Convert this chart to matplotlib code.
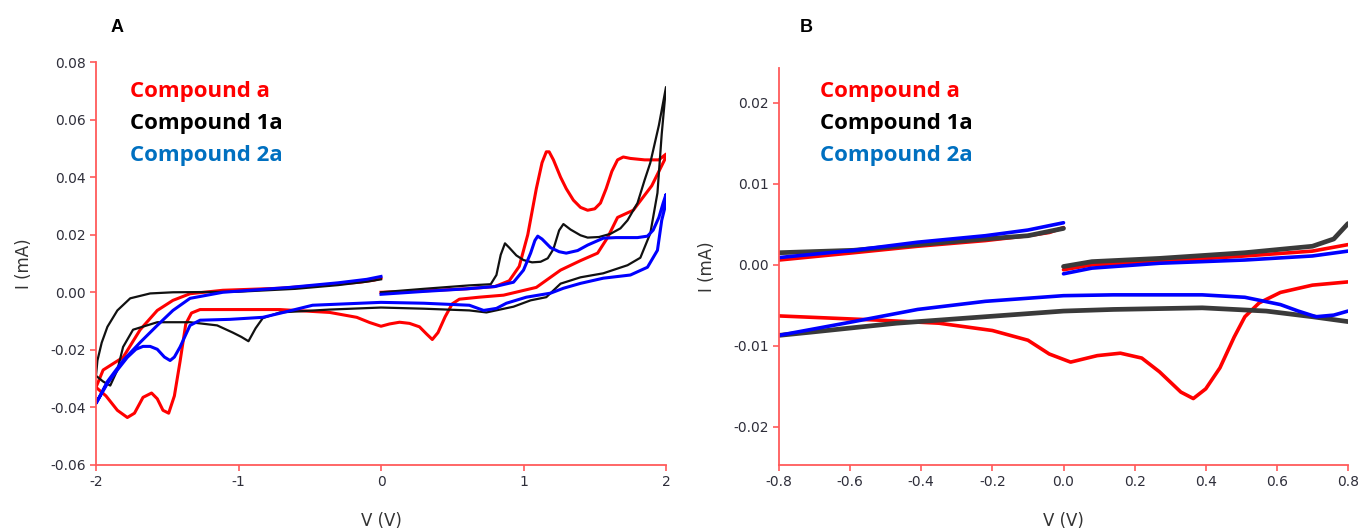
import matplotlib
matplotlib.use("Agg")
import matplotlib.pyplot as plt

# ---------------- Panel A data (V, mA): one cycle 0 -> 2 -> -2 -> 0 ----------------
a_red_V = [0.0, 0.3, 0.6, 0.8, 0.9, 0.97, 1.03, 1.09, 1.13, 1.16, 1.18, 1.21, 1.26, 1.3, 1.35, 1.4, 1.45, 1.5, 1.54, 1.58, 1.62, 1.66, 1.7, 1.75, 1.85, 1.95, 2.0,
           1.99, 1.9, 1.77, 1.66, 1.59, 1.52, 1.4, 1.26, 1.09, 0.86, 0.69, 0.55, 0.5, 0.45, 0.4, 0.36, 0.32, 0.27, 0.2, 0.13, 0.06, 0.0, -0.08, -0.17, -0.36, -0.71, -1.0, -1.27, -1.33, -1.37, -1.41, -1.45, -1.49, -1.53, -1.57, -1.61, -1.67, -1.73, -1.78, -1.85, -1.93, -2.0,
           -1.95, -1.81, -1.69, -1.57, -1.46, -1.34, -1.11, -0.71, -0.4, -0.15, -0.05, 0.0]
a_red_I = [0.0, 0.0005, 0.0012, 0.002, 0.004, 0.009, 0.02, 0.036, 0.045, 0.0488, 0.0488, 0.046, 0.04, 0.036, 0.032, 0.0295, 0.0285, 0.029, 0.031, 0.036, 0.042, 0.046, 0.047, 0.0465, 0.046, 0.046, 0.048,
           0.046, 0.037, 0.0285, 0.026, 0.019, 0.0136, 0.011, 0.0077, 0.0017, -0.001, -0.0017, -0.0024, -0.004, -0.0085, -0.014, -0.0164, -0.0145, -0.012, -0.0108, -0.0104, -0.011, -0.0118, -0.0105, -0.0087, -0.007, -0.006, -0.006, -0.006, -0.0072, -0.011, -0.024, -0.036, -0.042, -0.041, -0.037, -0.035, -0.0365, -0.042, -0.0435, -0.041, -0.036, -0.033,
           -0.027, -0.0226, -0.013, -0.0063, -0.0028, -0.0005, 0.0007, 0.0014, 0.0025, 0.0035, 0.0042, 0.0049]

a_blk_V = [0.0, 0.3, 0.62, 0.77, 0.81, 0.84, 0.87, 0.9, 0.95, 1.0, 1.06, 1.12, 1.17, 1.21, 1.25, 1.28, 1.33, 1.4, 1.45, 1.53, 1.61, 1.68, 1.73, 1.8, 1.85, 1.89, 1.95, 2.0,
           1.97, 1.94, 1.89, 1.82, 1.73, 1.56, 1.4, 1.26, 1.16, 1.05, 0.93, 0.74, 0.62, 0.3, 0.0, -0.36, -0.71, -0.83, -0.88, -0.93, -0.98, -1.04, -1.15, -1.34, -1.57, -1.74, -1.81, -1.85, -1.9, -1.95, -2.0,
           -1.99, -1.96, -1.92, -1.85, -1.76, -1.62, -1.46, -1.2, -1.0, -0.6, -0.3, -0.1, 0.0]
a_blk_I = [0.0, 0.0012, 0.0024, 0.0028, 0.006, 0.013, 0.017, 0.0155, 0.0128, 0.0112, 0.0104, 0.0106, 0.0118, 0.015, 0.0215, 0.0237, 0.0218, 0.0198, 0.019, 0.0192, 0.0203, 0.0222, 0.025, 0.031, 0.039, 0.045, 0.058, 0.0713,
           0.055, 0.0345, 0.0205, 0.012, 0.0094, 0.0066, 0.0052, 0.003, -0.0017, -0.0028, -0.005, -0.007, -0.0063, -0.0057, -0.0053, -0.006, -0.007, -0.009, -0.0125, -0.017, -0.0155, -0.014, -0.0115, -0.0104, -0.0104, -0.013, -0.019, -0.027, -0.0324, -0.031, -0.029,
           -0.0237, -0.0175, -0.012, -0.0063, -0.0021, -0.0004, 0.0, 0.0001, 0.0002, 0.0012, 0.0025, 0.0037, 0.0045]

a_blu_V = [0.0, 0.3, 0.6, 0.8, 0.93, 1.0, 1.05, 1.08, 1.1, 1.13, 1.19, 1.25, 1.3, 1.38, 1.45, 1.56, 1.65, 1.8, 1.87, 1.91, 1.95, 1.98, 2.0,
           1.99, 1.97, 1.94, 1.87, 1.75, 1.56, 1.4, 1.28, 1.19, 1.02, 0.88, 0.81, 0.72, 0.62, 0.3, 0.0, -0.48, -0.71, -0.83, -1.06, -1.27, -1.34, -1.41, -1.45, -1.48, -1.52, -1.57, -1.62, -1.67, -1.72, -1.78, -1.85, -1.92, -2.0,
           -1.92, -1.81, -1.69, -1.57, -1.46, -1.34, -1.11, -0.64, -0.3, -0.1, 0.0]
a_blu_I = [-0.0007, 0.0003, 0.0012, 0.002, 0.0035, 0.0077, 0.0136, 0.018, 0.0195, 0.0185, 0.0155, 0.0141, 0.0136, 0.0145, 0.0164, 0.0188, 0.019, 0.019, 0.0195, 0.0216, 0.026, 0.031, 0.034,
           0.029, 0.025, 0.0146, 0.0087, 0.006, 0.0049, 0.0031, 0.0014, -0.0003, -0.0017, -0.0038, -0.0056, -0.0063, -0.0045, -0.0038, -0.0035, -0.0045, -0.0073, -0.0087, -0.0094, -0.0097, -0.0115, -0.019, -0.0225, -0.0237, -0.0225, -0.0198, -0.0188, -0.0188, -0.0198, -0.0226, -0.027, -0.0317, -0.0386,
           -0.031, -0.0237, -0.0174, -0.0115, -0.0063, -0.0021, 0.0, 0.0017, 0.0033, 0.0045, 0.0055]

# ---------------- Panel B data (V, mA): three sweep segments per compound ----------------
b_red_up_V = [0.0, 0.08, 0.27, 0.51, 0.70, 0.80]
b_red_up_I = [-0.0006, 0.0, 0.0004, 0.0011, 0.0017, 0.0025]
b_red_dn_V = [0.80, 0.70, 0.61, 0.55, 0.51, 0.48, 0.44, 0.40, 0.365, 0.33, 0.27, 0.22, 0.16, 0.095, 0.02, -0.04, -0.10, -0.20, -0.35, -0.53, -0.80]
b_red_dn_I = [-0.0021, -0.0025, -0.0034, -0.0047, -0.0064, -0.0089, -0.0127, -0.0153, -0.0165, -0.0157, -0.0132, -0.0115, -0.0109, -0.0112, -0.012, -0.011, -0.0093, -0.0081, -0.0072, -0.0068, -0.0063]
b_red_rt_V = [-0.80, -0.59, -0.41, -0.22, -0.10, -0.04, 0.0]
b_red_rt_I = [0.0006, 0.0015, 0.0023, 0.003, 0.0036, 0.004, 0.0046]

b_blk_up_V = [0.0, 0.08, 0.27, 0.51, 0.70, 0.76, 0.80]
b_blk_up_I = [-0.0002, 0.0004, 0.0008, 0.0015, 0.0023, 0.0032, 0.0051]
b_blk_dn_V = [0.80, 0.70, 0.57, 0.39, 0.14, 0.0, -0.22, -0.47, -0.71, -0.80]
b_blk_dn_I = [-0.007, -0.0064, -0.0057, -0.0053, -0.0055, -0.0057, -0.0064, -0.0072, -0.0083, -0.0087]
b_blk_rt_V = [-0.80, -0.59, -0.41, -0.22, -0.10, 0.0]
b_blk_rt_I = [0.0015, 0.0018, 0.0025, 0.0032, 0.0036, 0.0045]

b_blu_up_V = [0.0, 0.08, 0.27, 0.51, 0.70, 0.80]
b_blu_up_I = [-0.0011, -0.0004, 0.0002, 0.0006, 0.0011, 0.0017]
b_blu_dn_V = [0.80, 0.76, 0.71, 0.66, 0.61, 0.51, 0.39, 0.14, 0.0, -0.22, -0.41, -0.59, -0.80]
b_blu_dn_I = [-0.0057, -0.0062, -0.0064, -0.0057, -0.0049, -0.004, -0.0037, -0.0037, -0.0038, -0.0045, -0.0055, -0.007, -0.0087]
b_blu_rt_V = [-0.80, -0.59, -0.41, -0.22, -0.10, 0.0]
b_blu_rt_I = [0.0009, 0.0018, 0.0028, 0.0036, 0.0043, 0.0052]

legend_labels = ["Compound a", "Compound 1a", "Compound 2a"]
legend_colors = ["#FF0000", "#000000", "#0070C0"]
line_colors = ["#FF0000", "#111111", "#0000FF"]

a_xticks = [-2, -1, 0, 1, 2]
a_yticks = [-0.06, -0.04, -0.02, 0.00, 0.02, 0.04, 0.06, 0.08]
b_xticks = [-0.8, -0.6, -0.4, -0.2, 0.0, 0.2, 0.4, 0.6, 0.8]
b_yticks = [-0.02, -0.01, 0.00, 0.01, 0.02]

spine_c = "#FF5A5A"
tick_txt = "#2E2E3A"
tick_font = "DejaVu Sans"

fig = plt.figure(figsize=(13.62, 5.32), dpi=100)
axA = fig.add_axes([96/1362, 1-465/532, (666-96)/1362, (465-62)/532])
axB = fig.add_axes([779/1362, 1-465/532, (1348-779)/1362, (465-68)/532])

def style(ax):
    for s in ["top", "right"]:
        ax.spines[s].set_visible(False)
    for s in ["left", "bottom"]:
        ax.spines[s].set_color(spine_c)
        ax.spines[s].set_linewidth(1.3)
    ax.tick_params(axis="both", direction="out", length=4, width=1.2, color=spine_c,
                   labelcolor=tick_txt, labelsize=10)
    for lab in ax.get_xticklabels() + ax.get_yticklabels():
        lab.set_family(tick_font)

# Panel A
axA.plot(a_red_V, a_red_I, color=line_colors[0], lw=2.2, solid_joinstyle="round")
axA.plot(a_blk_V, a_blk_I, color=line_colors[1], lw=1.6, solid_joinstyle="round")
axA.plot(a_blu_V, a_blu_I, color=line_colors[2], lw=2.2, solid_joinstyle="round")
axA.set_xlim(-2, 2)
axA.set_ylim(-0.06, 0.08)
axA.set_xticks(a_xticks)
axA.set_xticklabels([str(t) for t in a_xticks])
axA.set_yticks(a_yticks)
axA.set_yticklabels([f"{t:.2f}" for t in a_yticks])
style(axA)
axA.set_xlabel("V (V)", family=tick_font, fontsize=12, color="#333333", labelpad=16)
axA.set_ylabel("I (mA)", family=tick_font, fontsize=12, color="#333333", labelpad=12)

# Panel B
for segs, c, lw in [
    ([(b_red_up_V, b_red_up_I), (b_red_dn_V, b_red_dn_I), (b_red_rt_V, b_red_rt_I)], line_colors[0], 2.6),
    ([(b_blk_up_V, b_blk_up_I), (b_blk_dn_V, b_blk_dn_I), (b_blk_rt_V, b_blk_rt_I)], "#3A3A3A", 3.4),
    ([(b_blu_up_V, b_blu_up_I), (b_blu_dn_V, b_blu_dn_I), (b_blu_rt_V, b_blu_rt_I)], line_colors[2], 2.6),
]:
    for xv, yv in segs:
        axB.plot(xv, yv, color=c, lw=lw, solid_joinstyle="round", solid_capstyle="round")
axB.set_xlim(-0.8, 0.8)
axB.set_ylim(-0.0247, 0.0243)
axB.set_xticks(b_xticks)
axB.set_xticklabels([f"{t:.1f}" for t in b_xticks])
axB.set_yticks(b_yticks)
axB.set_yticklabels([f"{t:.2f}" for t in b_yticks])
style(axB)
axB.set_xlabel("V (V)", family=tick_font, fontsize=12, color="#333333", labelpad=16)
axB.set_ylabel("I (mA)", family=tick_font, fontsize=12, color="#333333", labelpad=12)

# Legends as text
for i, (lab, c) in enumerate(zip(legend_labels, legend_colors)):
    fig.text(130/1362, 1-(92+i*31.5)/532, lab, color=c, fontsize=16, fontweight="bold",
             family="Open Sans", va="center", ha="left")
    fig.text(820/1362, 1-(92+i*32)/532, lab, color=c, fontsize=16, fontweight="bold",
             family="Open Sans", va="center", ha="left")

fig.text(117/1362, 1-28/532, "A", fontsize=13, fontweight="bold", family="Liberation Sans",
         ha="center", va="center")
fig.text(806/1362, 1-28/532, "B", fontsize=13, fontweight="bold", family="Liberation Sans",
         ha="center", va="center")

fig.savefig("out.png", dpi=100)
